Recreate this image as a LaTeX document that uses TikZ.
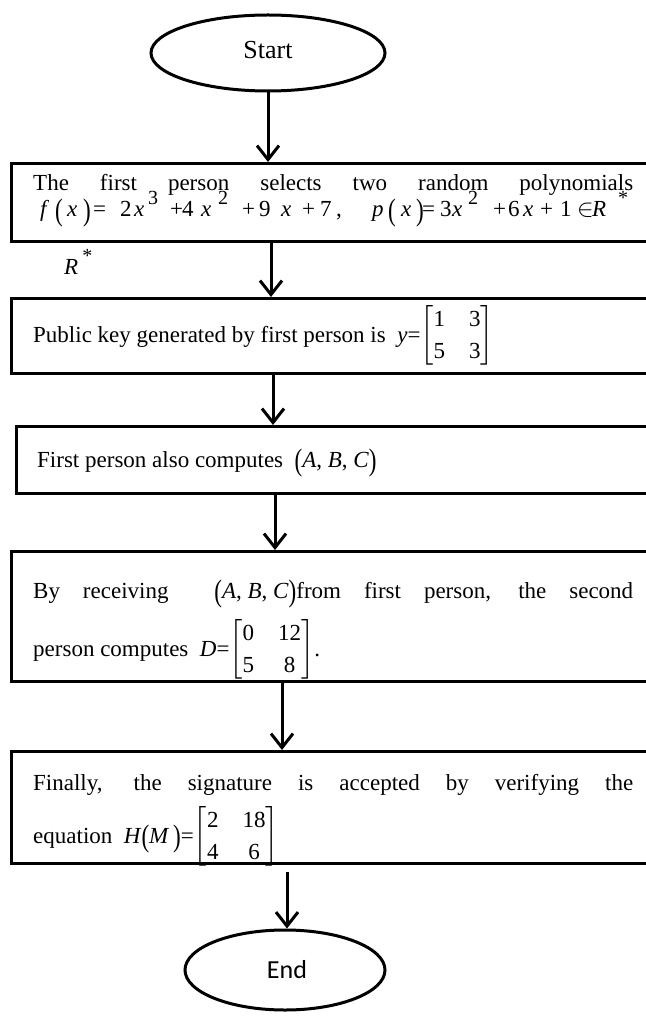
\documentclass[tikz,border=0pt]{standalone}
\usepackage{amsmath}
\usepackage{graphicx}
\usepackage{fontspec}
\setmainfont{Liberation Serif}
\newfontfamily\calib{Carlito}
\usetikzlibrary{arrows.meta,shapes.geometric}
\newcommand{\sps}[1]{\raisebox{12pt}{\fontsize{20}{22}\selectfont #1}}
\newcommand{\at}[2]{\rlap{\hspace{#1pt}#2}}
\newcommand{\tp}[1]{\raisebox{-3.5pt}{\scalebox{1}[1.35]{#1}}}
\newcommand{\mat}[4]{$\setlength{\arraycolsep}{12pt}\renewcommand{\arraystretch}{1.15}\begin{bmatrix}\text{#1} & \text{#2}\\ \text{#3} & \text{#4}\end{bmatrix}$}
\newcommand{\abc}{\mbox{\tp{(}\textit{A}, \textit{B}, \textit{C}\tp{)}}}
\begin{document}
\begin{tikzpicture}[x=1pt,y=-1pt,
  box/.style={draw,line width=3pt,rectangle,anchor=north west,inner sep=0pt,minimum width=660pt},
  oval/.style={draw,line width=3pt,ellipse,inner sep=0pt},
  arr/.style={line width=3pt,-{Straight Barb[length=14pt,width=22pt]}},
  txt/.style={anchor=base west,inner sep=0pt,font=\fontsize{23}{28}\selectfont}
]
\useasboundingbox (0,0) rectangle (645,1024);
% terminals
\node[oval,minimum width=234pt,minimum height=76pt] (start) at (268,53) {};
\node[txt,anchor=center,font=\fontsize{26}{28}\selectfont] (starttxt) at (268,50) {Start};
\node[oval,minimum width=200pt,minimum height=80pt] (end) at (285,970) {};
\node[txt,anchor=center,font=\calib\fontsize{26}{28}\selectfont] (endtxt) at (287,970) {End};
% boxes
\node[box,minimum height=78pt] (b1) at (10,162) {};
\node[box,minimum height=75pt] (b2) at (10,297) {};
\node[box,minimum height=67pt] (b3) at (15,425) {};
\node[box,minimum height=130pt] (b4) at (10,550) {};
\node[box,minimum height=112pt] (b5) at (10,750) {};
% texts
\node[txt] (t1a) at (33,191) {\makebox[600pt][s]{The first person selects two random polynomials}};
\node[txt] (t1b) at (33,217) {\makebox[600pt][l]{%
\at{7}{\textit{f}}\at{22}{\tp{(}}\at{34}{\textit{x}}\at{50}{\tp{)}}%
\at{60}{=}\at{87}{2}\at{101}{\textit{x}}\at{115}{\sps{3}}%
\at{137}{+}\at{149}{4}\at{168}{\textit{x}}\at{185}{\sps{2}}%
\at{209}{+}\at{226}{9}\at{248}{\textit{x}}\at{269}{+}\at{287}{7}\at{303}{,}%
\at{339}{\textit{p}}\at{355}{\tp{(}}\at{368}{\textit{x}}\at{383}{\tp{)}}%
\at{389}{=}\at{407}{3}\at{419}{\textit{x}}\at{435}{\sps{2}}%
\at{460}{+}\at{475}{6}\at{490}{\textit{x}}\at{507}{+}\at{527}{1}%
\at{544}{$\in$}\at{559}{\textit{R}}\at{585}{\sps{*}}}};
\node[txt] (rstar) at (64,274) {\textit{R}\hspace{4pt}\sps{*}};
\node[txt] (t2) at (33,342) {Public key generated by first person is \ \textit{y}=\mat{1}{3}{5}{3}};
\node[txt] (t3) at (37,467) {First person also computes \ \abc};
\node[txt] (t4a) at (33,598) {\makebox[600pt][s]{By receiving \ \abc from first person, the second}};
\node[txt] (t4b) at (33,656) {person computes \ \textit{D}=\mat{0}{12}{5}{8}.};
\node[txt] (t5a) at (33,790) {\makebox[600pt][s]{Finally, the signature is accepted by verifying the}};
\node[txt] (t5b) at (33,843) {equation \ \textit{H}\tp{(}\textit{M}\,\tp{)}=\mat{2}{18}{4}{6}};
% arrows
\coordinate (a1) at (271,240);
\coordinate (a2) at (273,372);
\coordinate (a3) at (275,492);
\coordinate (a4) at (282,680);
\coordinate (a5) at (287,872);
\draw[arr] (start.south) -- (start.south |- b1.north);
\draw[arr] (a1) -- (a1 |- b2.north);
\draw[arr] (a2) -- (a2 |- b3.north);
\draw[arr] (a3) -- (a3 |- b4.north);
\draw[arr] (a4) -- (a4 |- b5.north);
\draw[arr] (a5) -- (a5 |- end.north);
\end{tikzpicture}
\end{document}
